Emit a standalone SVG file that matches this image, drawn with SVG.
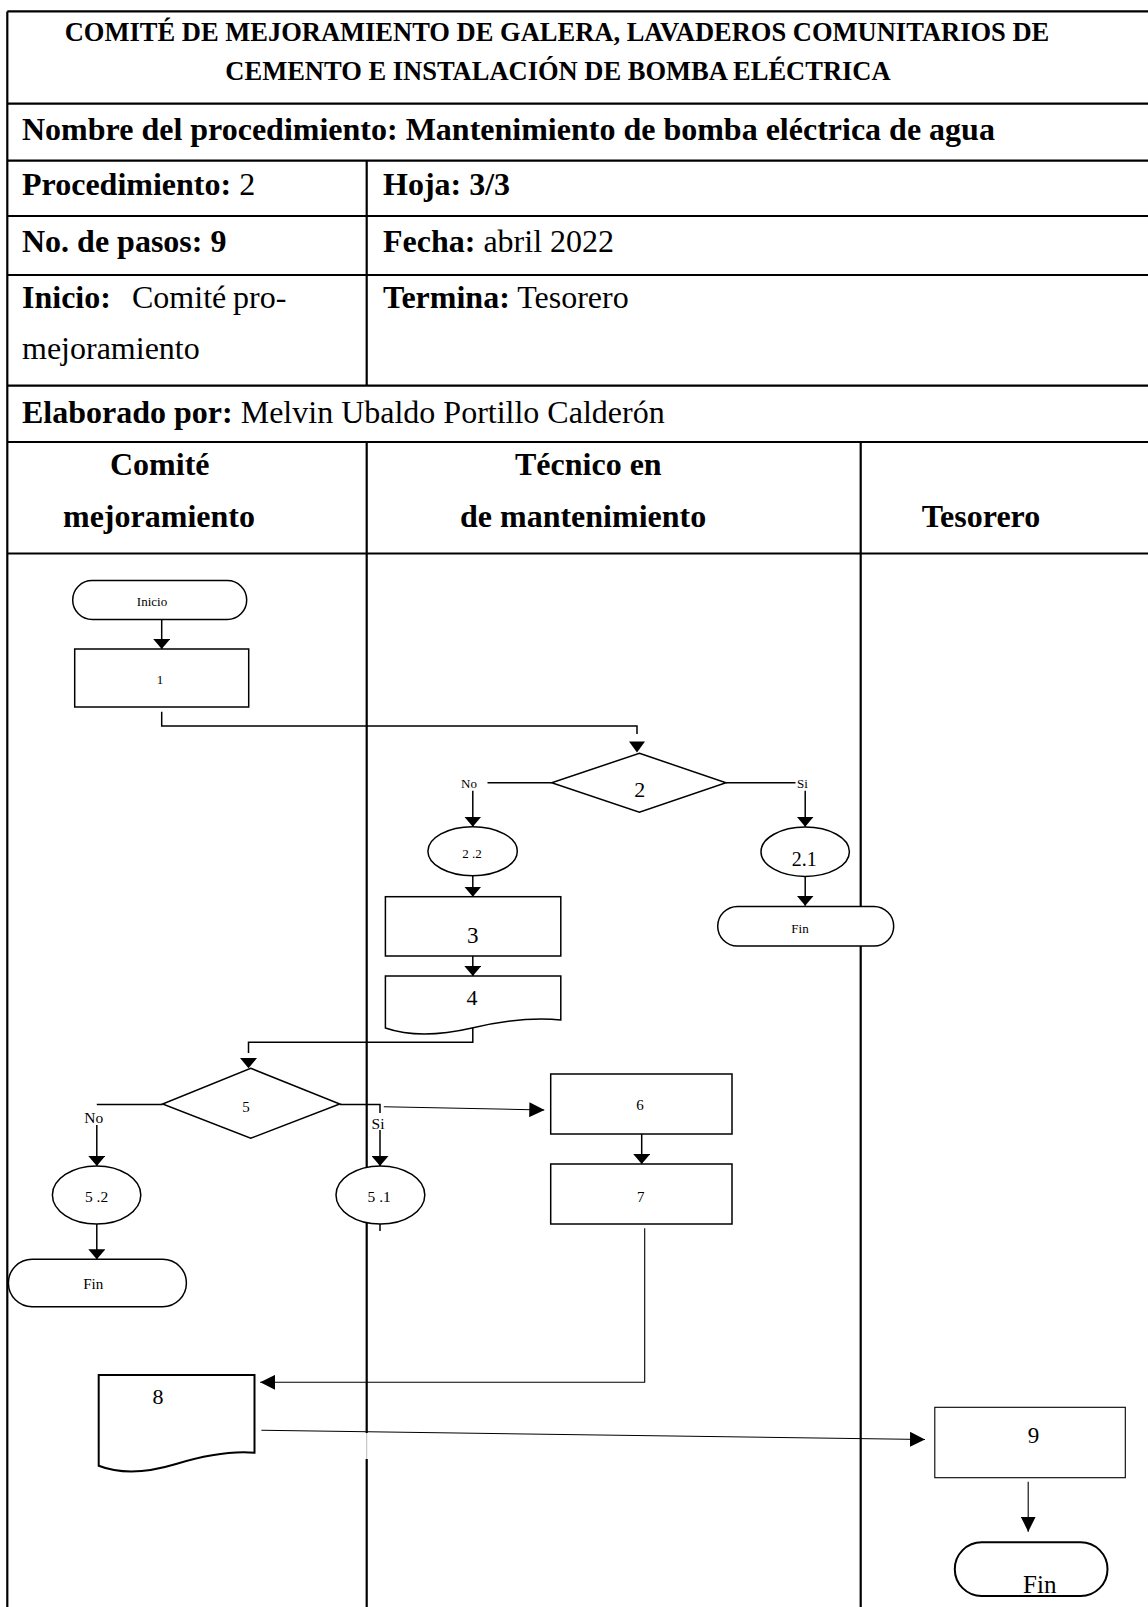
<svg xmlns="http://www.w3.org/2000/svg" width="1148" height="1607" viewBox="0 0 1148 1607">
<style>
text { font-family: "Liberation Serif", "Times New Roman", serif; fill: #000; }
.b { font-weight: bold; }
.tb { stroke: #000; stroke-width: 2.2; fill: none; }
.sh { fill: #fff; stroke: #000; stroke-width: 1.5; }
.cn { fill: none; stroke: #000; stroke-width: 1.5; }
.thin { fill: none; stroke: #000; stroke-width: 1.1; }
.ah { fill: #000; stroke: none; }
.m { text-anchor: middle; }
</style>
<defs>
<marker id="arr" markerUnits="userSpaceOnUse" viewBox="0 0 10 17" refX="10" refY="8.5" markerWidth="10" markerHeight="17" orient="auto">
<path d="M0,0 L10,8.5 L0,17 Z" fill="#000"/>
</marker>
<marker id="arr2" markerUnits="userSpaceOnUse" viewBox="0 0 15 15" refX="15" refY="7.5" markerWidth="15" markerHeight="15" orient="auto">
<path d="M0,0 L15,7.5 L0,15 Z" fill="#000"/>
</marker>
</defs>
<rect width="1148" height="1607" fill="#fff"/>

<g id="table">
<path class="tb" d="M7.3,11.4 V1607 M7.3,11.4 H1148 M7.3,103.6 H1148 M7.3,160.7 H1148 M7.3,216 H1148 M7.3,275 H1148 M7.3,385.7 H1148 M7.3,442 H1148 M7.3,553.5 H1148 M366.7,160.7 V385.7 M366.7,442 V1607 M860.7,442 V1607"/>
<rect x="365" y="1433" width="3.5" height="26" fill="#fff"/>
<path d="M366.7,1433 V1459" stroke="#bbb" stroke-width="1" fill="none"/>
<text class="b m" x="557" y="41" font-size="26.5">COMITÉ DE MEJORAMIENTO DE GALERA, LAVADEROS COMUNITARIOS DE</text>
<text class="b m" x="558" y="80" font-size="26.5">CEMENTO E INSTALACIÓN DE BOMBA ELÉCTRICA</text>
<text class="b" x="22" y="140" font-size="32">Nombre del procedimiento: Mantenimiento de bomba eléctrica de agua</text>
<text x="22" y="195" font-size="32"><tspan class="b">Procedimiento:</tspan> 2</text>
<text class="b" x="383" y="195" font-size="32">Hoja: 3/3</text>
<text class="b" x="22" y="252" font-size="32">No. de pasos: 9</text>
<text x="383" y="252" font-size="32"><tspan class="b">Fecha:</tspan> abril 2022</text>
<text x="22" y="308" font-size="32"><tspan class="b">Inicio:</tspan><tspan x="132">Comité</tspan><tspan x="233">pro-</tspan></text>
<text x="22" y="359" font-size="32">mejoramiento</text>
<text x="383" y="308" font-size="32"><tspan class="b">Termina:</tspan> Tesorero</text>
<text x="22" y="423" font-size="32"><tspan class="b">Elaborado por:</tspan> Melvin Ubaldo Portillo Calderón</text>
<text class="b" x="110" y="475" font-size="32">Comité</text>
<text class="b" x="63" y="527" font-size="32">mejoramiento</text>
<text class="b" x="515" y="475" font-size="32">Técnico en</text>
<text class="b" x="460" y="527" font-size="32">de mantenimiento</text>
<text class="b" x="921.7" y="527" font-size="32">Tesorero</text>
</g>

<g id="connectors">
<path class="cn" d="M161.7,619.5 V649" marker-end="url(#arr)"/>
<path class="cn" d="M161.7,711.7 V726 H637 V734"/>
<polygon class="ah" points="629,741.5 645,741.5 637,752.5"/>
<path class="cn" d="M551.7,782.7 H487.5"/>
<text class="m" x="469" y="788.3" font-size="13">No</text>
<path class="cn" d="M472.8,790.7 V826.7" marker-end="url(#arr)"/>
<path class="cn" d="M726,782.7 H795.5"/>
<text class="m" x="802.5" y="788.3" font-size="13">Si</text>
<path class="cn" d="M805.2,790.7 V826.7" marker-end="url(#arr)"/>
<path class="cn" d="M472.8,875.7 V896.7" marker-end="url(#arr)"/>
<path class="cn" d="M472.8,956 V976" marker-end="url(#arr)"/>
<path class="cn" d="M805.2,876.4 V905.7" marker-end="url(#arr)"/>
<path class="cn" d="M472.8,1028 V1042.3 H248.5 V1053"/>
<polygon class="ah" points="240,1058 257,1058 248.5,1068.3"/>
<path class="cn" d="M162.6,1104.5 H96.8"/>
<text class="m" x="93.8" y="1123" font-size="15.5">No</text>
<path class="cn" d="M96.8,1125 V1166" marker-end="url(#arr)"/>
<path class="cn" d="M339.8,1104.5 H380 V1113"/>
<text class="m" x="378" y="1129" font-size="15.5">Si</text>
<path class="cn" d="M380,1130 V1166" marker-end="url(#arr)"/>
<path class="thin" d="M383.8,1106.7 L544.3,1110" marker-end="url(#arr2)"/>
<path class="cn" d="M380,1224 V1231"/>
<path class="cn" d="M96.8,1224 V1259.3" marker-end="url(#arr)"/>
<path class="cn" d="M641.7,1134 V1164" marker-end="url(#arr)"/>
<path class="thin" d="M644.7,1228.3 V1382.3 H260.2" marker-end="url(#arr2)"/>
<path class="thin" d="M261.4,1430.3 L925,1439.5" marker-end="url(#arr2)"/>
<path class="thin" d="M1028.2,1481.7 V1531.7" marker-end="url(#arr2)"/>
</g>

<g id="n-inicio">
<rect class="sh" x="72.7" y="580.5" width="174" height="39" rx="19.5"/>
<text class="m" x="152" y="606" font-size="13">Inicio</text>
</g>
<g id="n-1">
<rect class="sh" x="74.7" y="649" width="174" height="58"/>
<text class="m" x="160" y="683.5" font-size="13">1</text>
</g>
<g id="n-2">
<polygon class="sh" points="639.4,753.3 726,782.7 639.4,812.3 551.7,782.7"/>
<text class="m" x="639.7" y="796.5" font-size="22">2</text>
</g>
<g id="n-2-2">
<ellipse class="sh" cx="472.6" cy="851.2" rx="44.7" ry="24.5"/>
<text class="m" x="472" y="858" font-size="13">2 .2</text>
</g>
<g id="n-2-1">
<ellipse class="sh" cx="805.2" cy="851.7" rx="44.2" ry="24.7"/>
<text class="m" x="804.2" y="865.7" font-size="20">2.1</text>
</g>
<g id="n-fin-2-1">
<rect class="sh" x="717.7" y="906.5" width="176" height="39.5" rx="19.75"/>
<text class="m" x="800" y="933" font-size="13">Fin</text>
</g>
<g id="n-3">
<rect class="sh" x="385.4" y="896.7" width="175.4" height="59.3"/>
<text class="m" x="472.8" y="943.3" font-size="23">3</text>
</g>
<g id="n-4">
<path class="sh" d="M385.4,976 H560.8 V1020 Q524,1016 472,1028 Q420,1040 385.4,1028 Z"/>
<text class="m" x="472" y="1005" font-size="22">4</text>
</g>
<g id="n-5">
<polygon class="sh" points="250.7,1068.3 339.8,1104 250.7,1138.3 162.6,1104"/>
<text class="m" x="246" y="1111.7" font-size="15">5</text>
</g>
<g id="n-5-2">
<ellipse class="sh" cx="96.6" cy="1195" rx="44.2" ry="29"/>
<text class="m" x="96.6" y="1202.3" font-size="15.5">5 .2</text>
</g>
<g id="n-5-1">
<ellipse class="sh" cx="380.4" cy="1195" rx="44.4" ry="29"/>
<text class="m" x="379.2" y="1202.3" font-size="15.5">5 .1</text>
</g>
<g id="n-fin-5-2">
<rect class="sh" x="8.4" y="1259.3" width="178" height="47.4" rx="23.7"/>
<text class="m" x="93.3" y="1289.3" font-size="15">Fin</text>
</g>
<g id="n-6">
<rect class="sh" x="550.7" y="1074" width="181.3" height="60"/>
<text class="m" x="640" y="1110" font-size="15">6</text>
</g>
<g id="n-7">
<rect class="sh" x="550.7" y="1164" width="181.3" height="60"/>
<text class="m" x="640.7" y="1202.3" font-size="15">7</text>
</g>
<g id="n-8">
<path class="sh" style="stroke-width:2" d="M98.7,1375 H254.5 V1452.7 Q222,1450 176,1464 Q130,1478 98.7,1465.7 Z"/>
<text class="m" x="158" y="1404" font-size="22">8</text>
</g>
<g id="n-9">
<rect class="sh" style="stroke-width:1.1" x="934.8" y="1407.3" width="190.5" height="70.4"/>
<text class="m" x="1033.4" y="1443.3" font-size="23">9</text>
</g>
<g id="n-fin-9">
<rect class="sh" style="stroke-width:2" x="954.8" y="1542.3" width="152.7" height="53.7" rx="26.85"/>
<text class="m" x="1039.8" y="1593.3" font-size="25">Fin</text>
</g>
</svg>
